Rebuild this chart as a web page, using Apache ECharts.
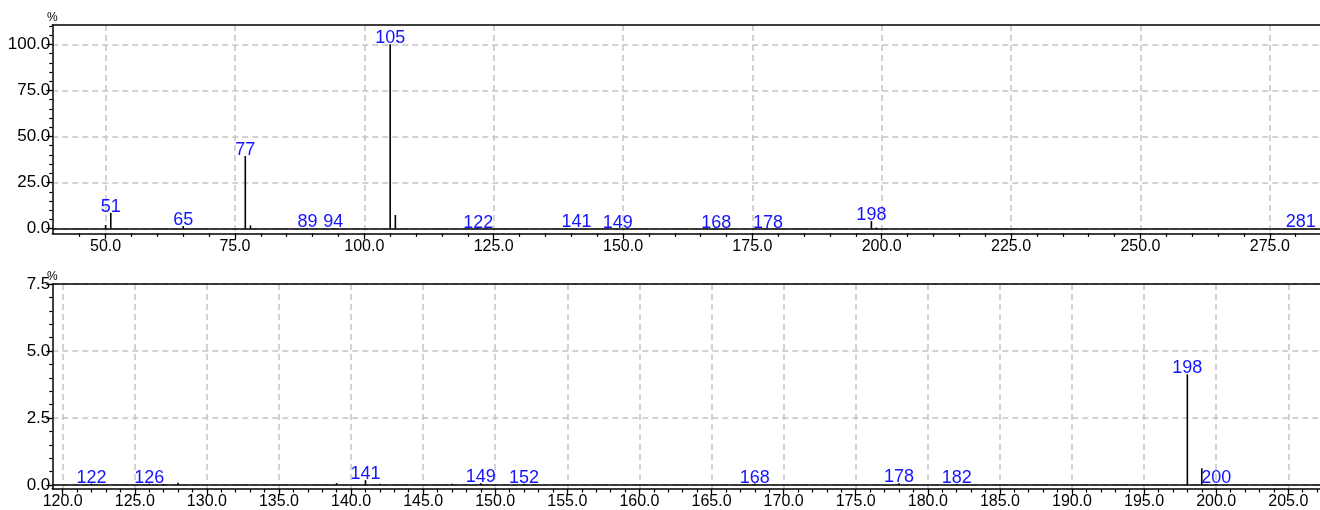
<!DOCTYPE html>
<html><head><meta charset="utf-8">
<script src="https://cdn.jsdelivr.net/npm/echarts@6/dist/echarts.min.js"></script>
<style>html,body{margin:0;padding:0;background:#fff}#c{width:1320px;height:510px}</style>
</head><body><div id="c"></div>
<script>
// m/z values and relative intensities (%)
const mz =        [50, 51, 65, 77, 78, 89, 94, 105, 106, 122, 126, 127, 128, 139, 141, 142, 147, 149, 152, 168, 178, 182, 198, 199, 200, 281];
const intensity = [2.0, 8.6, 1.4, 39.4, 1.8, 0.4, 0.4, 100, 7.4, 0.05, 0.05, 0.04, 0.08, 0.07, 0.18, 0.05, 0.05, 0.06, 0.05, 0.05, 0.06, 0.04, 4.13, 0.62, 0.04, 0.3];
const topLabels = [51, 65, 77, 89, 94, 105, 122, 141, 149, 168, 178, 198, 281];
const bottomLabels = [122, 126, 141, 149, 152, 168, 178, 182, 198, 200];
const topXTicks = [50, 75, 100, 125, 150, 175, 200, 225, 250, 275];
const topYTicks = [0, 25, 50, 75, 100];
const bottomXTicks = [120, 125, 130, 135, 140, 145, 150, 155, 160, 165, 170, 175, 180, 185, 190, 195, 200, 205];
const bottomYTicks = [0, 2.5, 5, 7.5];

const topXRange = [39.7, 284.7], topYRange = [-2.5, 110.5];
const botXRange = [119.28, 207.2], botYRange = [-0.15, 7.5];

function steps(a, b, s) { const r = []; for (let v = a; v <= b + 1e-9; v += s) r.push(+v.toFixed(3)); return r; }
const topXMinor = steps(45, 280, 5), topYMinor = steps(0, 110, 5);
const botXMinor = steps(120, 207, 1), botYMinor = steps(0, 7.5, 0.5);

const FONT = 'Liberation Sans';
const dashed = { show: true, lineStyle: { color: '#c4c4c4', width: 1.5, type: [6, 4] } };
const blackLine = { show: true, onZero: false, lineStyle: { color: '#000', width: 1.5 } };

function buildData(range, labels) {
  const out = [];
  for (let i = 0; i < mz.length; i++) {
    if (mz[i] < range[0] || mz[i] > range[1]) continue;
    const item = { value: [mz[i], intensity[i]] };
    if (labels.includes(mz[i])) item.label = { show: true };
    out.push(item);
  }
  return out;
}

function xAxes(grid, range, major, minor) {
  return [
    { type: 'value', gridIndex: grid, min: range[0], max: range[1], position: 'bottom',
      axisLine: blackLine,
      axisTick: { show: true, inside: false, length: 6, customValues: major, lineStyle: { color: '#000', width: 1.2 } },
      axisLabel: { show: true, customValues: major, margin: 5, color: '#000', fontSize: 16, fontFamily: FONT, formatter: v => v.toFixed(1) },
      splitLine: dashed },
    { type: 'value', gridIndex: grid, min: range[0], max: range[1], position: 'bottom',
      axisLine: { show: false, onZero: false },
      axisTick: { show: true, length: 3.5, customValues: minor, lineStyle: { color: '#000', width: 1.2 } },
      axisLabel: { show: false }, splitLine: { show: false } },
    { type: 'value', gridIndex: grid, min: range[0], max: range[1], position: 'top',
      axisLine: blackLine, axisTick: { show: false }, axisLabel: { show: false }, splitLine: { show: false } }
  ];
}
function yAxes(grid, range, major, minor) {
  return [
    { type: 'value', gridIndex: grid, min: range[0], max: range[1], position: 'left',
      name: '%', nameLocation: 'end', nameGap: 1, nameMoveOverlap: false,
      nameTextStyle: { color: '#000', fontSize: 12, fontFamily: FONT },
      axisLine: blackLine,
      axisTick: { show: true, length: 6, customValues: major, lineStyle: { color: '#000', width: 1.2 } },
      axisLabel: { show: true, customValues: major, margin: 2, color: '#000', fontSize: 17, fontFamily: FONT, formatter: v => v.toFixed(1) },
      splitLine: dashed },
    { type: 'value', gridIndex: grid, min: range[0], max: range[1], position: 'left',
      axisLine: { show: false, onZero: false },
      axisTick: { show: true, length: 3, customValues: minor, lineStyle: { color: '#000', width: 1.2 } },
      axisLabel: { show: false }, splitLine: { show: false } }
  ];
}

function barSeries(xi, yi, range, labels) {
  return {
    type: 'bar', xAxisIndex: xi, yAxisIndex: yi, barWidth: 1.6, clip: true,
    itemStyle: { color: '#000' },
    label: { show: false, position: 'top', distance: -3, color: '#1414ff', fontSize: 18, fontFamily: FONT,
             formatter: p => String(p.value[0]) },
    data: buildData(range, labels),
    markLine: { silent: true, symbol: 'none', label: { show: false },
                lineStyle: { color: '#000', width: 1.5, type: 'solid' }, data: [{ yAxis: 0 }] },
    animation: false
  };
}

const chart = echarts.init(document.getElementById('c'), null, { renderer: 'canvas' });
chart.setOption({
  animation: false,
  backgroundColor: '#fff',
  grid: [
    { left: 52.3, top: 25, width: 1267.7, height: 208.3 },
    { left: 52.3, top: 284, width: 1267.7, height: 205.3 }
  ],
  xAxis: [...xAxes(0, topXRange, topXTicks, topXMinor), ...xAxes(1, botXRange, bottomXTicks, botXMinor)],
  yAxis: [...yAxes(0, topYRange, topYTicks, topYMinor), ...yAxes(1, botYRange, bottomYTicks, botYMinor)],
  series: [
    barSeries(0, 0, topXRange, topLabels),
    barSeries(3, 2, botXRange, bottomLabels)
  ]
});
</script></body></html>
